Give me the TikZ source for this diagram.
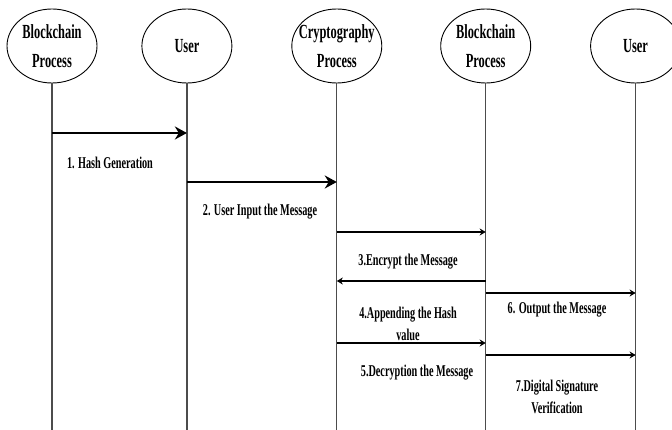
\documentclass[tikz,border=0pt]{standalone}
\usepackage{fontspec}
\setmainfont{Liberation Serif}[FakeStretch=0.62]
\usetikzlibrary{arrows.meta,positioning,shapes.geometric,calc}

\begin{document}
\begin{tikzpicture}[x=1pt,y=1pt,
   actor/.style={draw, ellipse, line width=0.9pt, minimum width=90pt, minimum height=74pt, inner sep=0pt,
      label={[font=\bfseries\fontsize{20}{29}\selectfont, align=center]center:#1}},
   life/.style={line width=1.2pt, black!70},
   bigmsg/.style={line width=2pt, -{Stealth[length=12pt, width=13pt]}},
   msg/.style={line width=1.2pt, -{Stealth[length=6pt, width=7pt]}},
   txt/.style={font=\bfseries\fontsize{16.5}{21.5}\selectfont, align=center}]

   \useasboundingbox (0,0) rectangle (672,-430);

   % participants
   \node[actor={Blockchain\\Process}] (bc1) at (52,-46) {};
   \node[actor={User}] (user1) [right=44pt of bc1] {};
   \node[actor={Cryptography\\Process}] (crypto) [right=59pt of user1] {};
   \node[actor={Blockchain\\Process}] (bc2) [right=58pt of crypto] {};
   \node[actor={User}] (user2) [right=59pt of bc2] {};

   % lifelines
   \coordinate (bottom) at (0,-430);
   \foreach \p in {bc1,user1,crypto,bc2,user2}
      \draw[life] (\p.south) -- (\p.south |- bottom);

   % message levels
   \coordinate (m1) at (0,-133);
   \coordinate (m2) at (0,-182);
   \coordinate (m3) at (0,-232);
   \coordinate (m4) at (0,-281);
   \coordinate (m5) at (0,-343);
   \coordinate (m6) at (0,-293);
   \coordinate (m7) at (0,-355);

   \draw[bigmsg] (bc1 |- m1) -- (user1 |- m1);
   \draw[bigmsg] (user1 |- m2) -- (crypto |- m2);
   \draw[msg] (crypto |- m3) -- (bc2 |- m3);
   \draw[msg] (bc2 |- m4) -- (crypto |- m4);
   \draw[msg] (crypto |- m5) -- (bc2 |- m5);
   \draw[msg] (bc2 |- m6) -- (user2 |- m6);
   \draw[msg] (bc2 |- m7) -- (user2 |- m7);

   % labels
   \node[txt] (l1) at (110,-163) {1. Hash Generation};
   \node[txt] (l2) at (260,-212) {2. User Input the Message};
   \node[txt] (l3) at (408,-262) {3.Encrypt the Message};
   \node[txt] (l4) at (408,-324) {4.Appending the Hash\\value};
   \node[txt] (l5) at (417,-373) {5.Decryption the Message};
   \node[txt] (l6) at (557,-310) {6. Output the Message};
   \node[txt] (l7) at (557,-397) {7.Digital Signature\\Verification};

\end{tikzpicture}
\end{document}
